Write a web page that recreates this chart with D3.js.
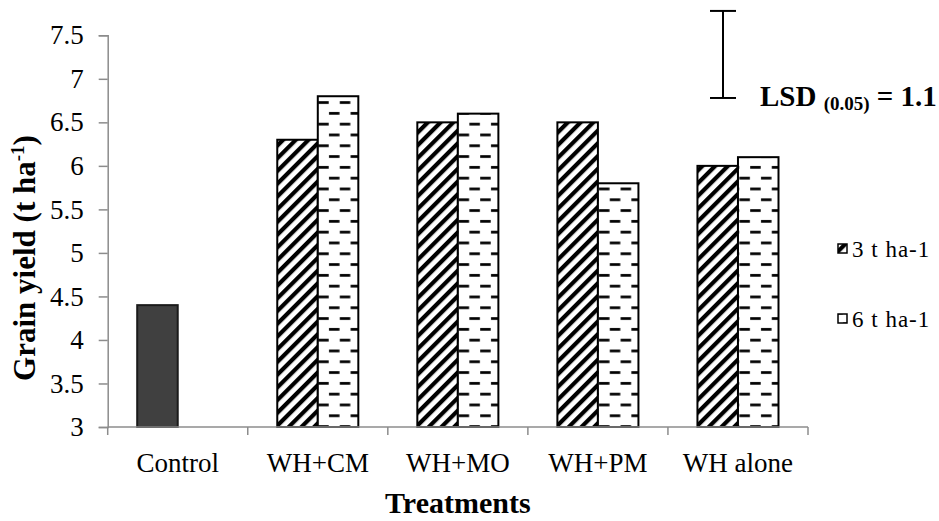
<!DOCTYPE html>
<html>
<head>
<meta charset="utf-8">
<script src="https://cdn.jsdelivr.net/npm/d3@7/dist/d3.min.js"></script>
<style>
  html, body { margin: 0; padding: 0; background: #fff; }
  svg { display: block; }
  svg text { font-family: "Liberation Serif", "Times New Roman", serif; }
</style>
</head>
<body>
<svg id="chart" width="939" height="521"></svg>
<script>
// ---- data ----
const categories = ["Control", "WH+CM", "WH+MO", "WH+PM", "WH alone"];
const seriesNames = ["3 t ha-1", "6 t ha-1"];
const series3 = [4.4, 6.3, 6.5, 6.5, 6.0];
const series6 = [null, 6.8, 6.6, 5.8, 6.1];
const yTicks = [3, 3.5, 4, 4.5, 5, 5.5, 6, 6.5, 7, 7.5];
const lsdRange = [6.78, 7.78];
const lsdLabel = "LSD";
const lsdSub = "(0.05)";
const lsdValue = " = 1.1";

const svg = d3.select("#chart");

// ---- patterns ----
const defs = svg.append("defs");
const hatch = defs.append("pattern")
  .attr("id", "hatch").attr("patternUnits", "userSpaceOnUse")
  .attr("width", 9).attr("height", 9)
  .attr("patternTransform", "rotate(45)");
hatch.append("rect").attr("width", 9).attr("height", 9).attr("fill", "#fff");
hatch.append("rect").attr("x", 0).attr("y", 0).attr("width", 4.2).attr("height", 9).attr("fill", "#000");

const dash = defs.append("pattern")
  .attr("id", "dash").attr("patternUnits", "userSpaceOnUse")
  .attr("width", 21.6).attr("height", 21.6);
dash.append("rect").attr("width", 21.6).attr("height", 21.6).attr("fill", "#fff");
dash.append("rect").attr("x", 5).attr("y", 4).attr("width", 10.5).attr("height", 2.7).attr("fill", "#000");
dash.append("rect").attr("x", 15.8).attr("y", 14.8).attr("width", 10.5).attr("height", 2.7).attr("fill", "#000");
dash.append("rect").attr("x", -5.8).attr("y", 14.8).attr("width", 10.5).attr("height", 2.7).attr("fill", "#000");

const fills = ["url(#hatch)", "url(#dash)"];

// ---- scales ----
const x0 = d3.scaleBand().domain(categories).range([107.7, 808]).padding(0);
const x1 = d3.scaleBand().domain([0, 1]).range([0, x0.bandwidth()]).paddingInner(0).paddingOuter(0.728);
const y = d3.scaleLinear().domain([3, 7.5]).range([427, 35.3]);

const axisColor = "#8c8c8c";

// ---- y axis ----
const yAxis = svg.append("g").attr("transform", `translate(${x0.range()[0]},0)`)
  .call(d3.axisLeft(y).tickValues(yTicks).tickSize(9).tickPadding(15).tickFormat(d => String(d)));
yAxis.attr("font-family", null).attr("font-size", null);
yAxis.select(".domain").attr("stroke", axisColor).attr("stroke-width", 1.5);
yAxis.selectAll(".tick line").attr("stroke", axisColor).attr("stroke-width", 1.5);
yAxis.selectAll(".tick text").attr("font-size", 27).attr("fill", "#000")
  .style("font-family", "'Liberation Serif', 'Times New Roman', serif");

// ---- bars ----
const barData = [];
categories.forEach((c, i) => {
  [series3[i], series6[i]].forEach((v, s) => {
    if (v != null) barData.push({ c, s, v, i });
  });
});

svg.append("g").selectAll("rect").data(barData).join("rect")
  .attr("x", d => x0(d.c) + x1(d.s))
  .attr("width", x1.bandwidth())
  .attr("y", d => y(d.v))
  .attr("height", d => y(3) - y(d.v))
  .attr("fill", d => (d.c === "Control" ? "#404040" : fills[d.s]))
  .attr("stroke", d => (d.c === "Control" ? "#1a1a1a" : "#000"))
  .attr("stroke-width", 2);

// ---- x axis ----
const xg = svg.append("g");
xg.append("line")
  .attr("x1", x0.range()[0]).attr("x2", x0.range()[1])
  .attr("y1", y(3)).attr("y2", y(3))
  .attr("stroke", axisColor).attr("stroke-width", 1.5);
const boundaries = categories.map(c => x0(c)).concat([x0.range()[1]]);
xg.selectAll("line.tk").data(boundaries).join("line").attr("class", "tk")
  .attr("x1", d => d).attr("x2", d => d)
  .attr("y1", y(3)).attr("y2", y(3) + 8)
  .attr("stroke", axisColor).attr("stroke-width", 1.5);
xg.selectAll("text").data(categories).join("text")
  .attr("x", d => x0(d) + x0.bandwidth() / 2)
  .attr("y", 472)
  .attr("text-anchor", "middle")
  .attr("font-size", 27)
  .text(d => d);

// ---- axis titles ----
svg.append("text")
  .attr("x", (x0.range()[0] + x0.range()[1]) / 2)
  .attr("y", 513)
  .attr("text-anchor", "middle")
  .attr("font-size", 30).attr("font-weight", "bold")
  .text("Treatments");

const yt = svg.append("text")
  .attr("transform", "translate(35,258) rotate(-90)")
  .attr("text-anchor", "middle")
  .attr("font-size", 31).attr("font-weight", "bold");
yt.append("tspan").text("Grain yield (t ha");
yt.append("tspan").attr("font-size", 19).attr("dy", -11).text("-1");
yt.append("tspan").attr("dy", 11).text(")");

// ---- LSD annotation ----
const lsdX = 723;
const lg = svg.append("g").attr("stroke", "#000").attr("stroke-width", 2);
lg.append("line").attr("x1", lsdX).attr("x2", lsdX).attr("y1", y(lsdRange[1])).attr("y2", y(lsdRange[0]));
lg.append("line").attr("x1", lsdX - 13).attr("x2", lsdX + 13).attr("y1", y(lsdRange[1])).attr("y2", y(lsdRange[1]));
lg.append("line").attr("x1", lsdX - 13).attr("x2", lsdX + 13).attr("y1", y(lsdRange[0])).attr("y2", y(lsdRange[0]));

const lt = svg.append("text").attr("x", 760).attr("y", 106)
  .attr("font-size", 29).attr("font-weight", "bold");
lt.append("tspan").text(lsdLabel + " ");
lt.append("tspan").attr("font-size", 19).attr("dy", 4).text(lsdSub);
lt.append("tspan").attr("dy", -4).text(lsdValue);

// ---- legend ----
const legY = [248.5, 318.5];
const leg = svg.append("g").selectAll("g").data(seriesNames).join("g")
  .attr("transform", (d, i) => `translate(838,${legY[i]})`);
leg.append("rect").attr("x", 0).attr("y", -4.5).attr("width", 9).attr("height", 9)
  .attr("fill", (d, i) => fills[i]).attr("stroke", "#000").attr("stroke-width", 1.5);
leg.append("text").attr("x", 14).attr("y", 8.5)
  .attr("font-size", 23).attr("letter-spacing", 1)
  .text(d => d);
</script>
</body>
</html>
